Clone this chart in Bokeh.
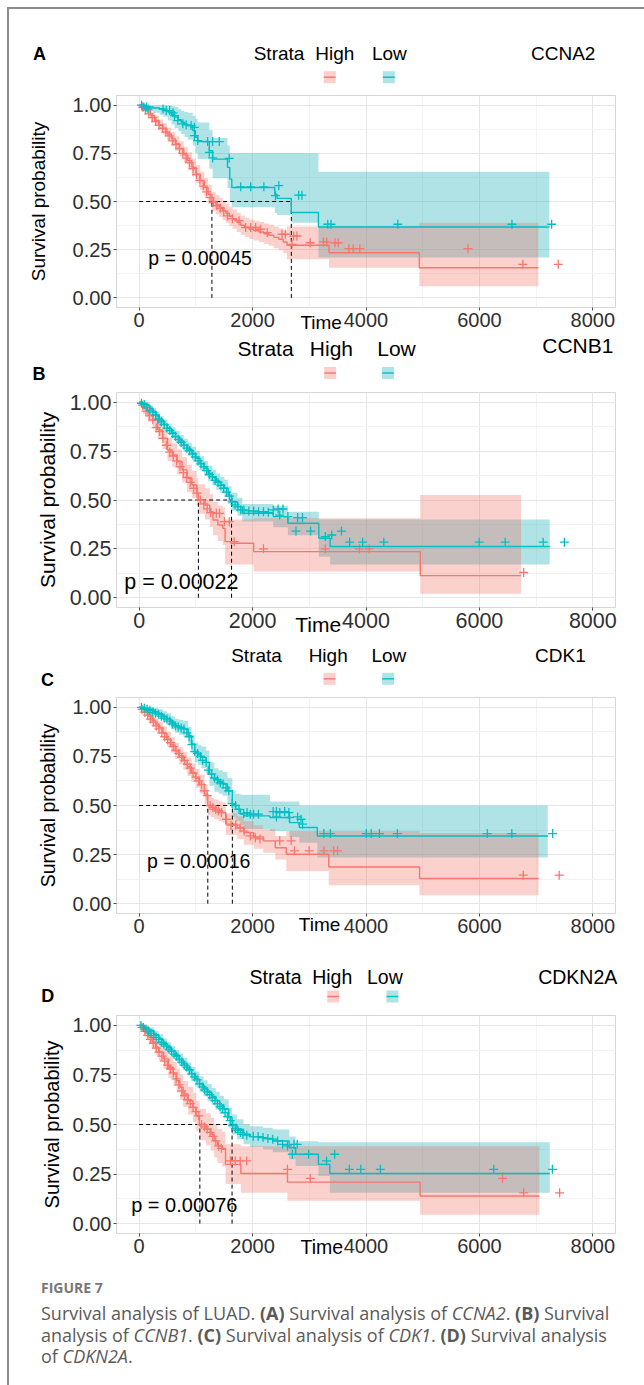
from bokeh.plotting import figure
from bokeh.models import Range1d, FixedTicker, Label, Div, PrintfTickFormatter
from bokeh.layouts import column, row
from bokeh.core.properties import value
from bokeh.embed import file_html
from bokeh.resources import INLINE

# ------------------------------------------------------------------ data
X_TICKS = [0, 2000, 4000, 6000, 8000]
X_MINOR = [1000, 3000, 5000, 7000]
Y_TICKS = [0.0, 0.25, 0.5, 0.75, 1.0]
Y_MINOR = [0.125, 0.375, 0.625, 0.875]

PANEL_LETTERS = ["A", "B", "C", "D"]
GENES = ["CCNA2", "CCNB1", "CDK1", "CDKN2A"]
P_TEXTS = ["p = 0.00045", "p = 0.00022", "p = 0.00016", "p = 0.00076"]
STRATA = ["High", "Low"]

# ---- Panel A (CCNA2)
A_high_t = [0, 60, 128, 200, 274, 350, 420, 490, 566, 640, 712, 785, 857, 930, 1003, 1075, 1149, 1215, 1283, 1350,
            1412, 1470, 1528, 1590, 1645, 1720, 1791, 1860, 1937, 2020, 2112, 2200, 2287, 2375, 2462, 2540, 2607, 3348, 4941, 7040]
A_high_s = [1.0, 0.99, 0.972, 0.945, 0.92, 0.898, 0.877, 0.85, 0.825, 0.80, 0.773, 0.742, 0.712, 0.677, 0.642, 0.607, 0.573, 0.537, 0.50, 0.484,
            0.469, 0.454, 0.439, 0.423, 0.408, 0.392, 0.377, 0.366, 0.356, 0.349, 0.342, 0.333, 0.325, 0.314, 0.304, 0.29, 0.273, 0.234, 0.156, 0.156]
A_high_lo = [1.0, 0.98, 0.957, 0.925, 0.895, 0.87, 0.847, 0.817, 0.789, 0.762, 0.733, 0.70, 0.668, 0.631, 0.595, 0.559, 0.524, 0.487, 0.45, 0.434,
             0.419, 0.404, 0.389, 0.373, 0.358, 0.342, 0.327, 0.316, 0.306, 0.297, 0.29, 0.28, 0.27, 0.258, 0.247, 0.232, 0.20, 0.156, 0.06, 0.06]
A_high_hi = [1.0, 1.0, 0.987, 0.965, 0.945, 0.926, 0.907, 0.883, 0.861, 0.838, 0.813, 0.784, 0.756, 0.723, 0.689, 0.655, 0.622, 0.587, 0.55, 0.534,
             0.519, 0.504, 0.489, 0.473, 0.458, 0.442, 0.427, 0.416, 0.406, 0.40, 0.394, 0.386, 0.38, 0.37, 0.36, 0.35, 0.37, 0.37, 0.39, 0.39]
A_high_ct = [60, 110, 170, 230, 290, 350, 410, 470, 530, 590, 650, 710, 770, 830, 890, 950, 1010, 1070, 1130, 1190,
             1250, 1310, 1370, 1430, 1490, 1557, 1645, 1762, 1878, 1966, 2053, 2141, 2258, 2520, 2578, 2695, 2724, 2782, 3016, 3249,
             3307, 3453, 3511, 3698, 3774, 3891, 5798, 6766, 7390]
A_high_cs = [0.99, 0.975, 0.955, 0.935, 0.915, 0.895, 0.88, 0.86, 0.84, 0.815, 0.795, 0.775, 0.75, 0.725, 0.70, 0.67, 0.64, 0.61, 0.58, 0.55,
             0.52, 0.495, 0.478, 0.465, 0.45, 0.425, 0.411, 0.40, 0.365, 0.365, 0.365, 0.356, 0.339, 0.33, 0.33, 0.278, 0.321, 0.321, 0.286, 0.29,
             0.29, 0.286, 0.286, 0.255, 0.255, 0.255, 0.255, 0.174, 0.174]
A_low_t = [0, 100, 157, 250, 362, 430, 507, 570, 624, 690, 741, 800, 857, 945, 992, 1032, 1237, 1295, 1557, 1598,
           1633, 2392, 2432, 2683, 3161, 7233]
A_low_s = [1.0, 0.995, 0.99, 0.985, 0.98, 0.972, 0.964, 0.95, 0.938, 0.925, 0.911, 0.90, 0.894, 0.868, 0.833, 0.811, 0.764, 0.72, 0.677, 0.616,
           0.573, 0.538, 0.516, 0.443, 0.368, 0.368]
A_low_lo = [1.0, 0.98, 0.97, 0.96, 0.95, 0.94, 0.92, 0.90, 0.88, 0.865, 0.85, 0.835, 0.82, 0.79, 0.75, 0.72, 0.67, 0.62, 0.57, 0.50,
            0.47, 0.44, 0.43, 0.39, 0.21, 0.21]
A_low_hi = [1.0, 1.0, 1.0, 1.0, 1.0, 1.0, 1.0, 0.995, 0.99, 0.98, 0.97, 0.965, 0.96, 0.945, 0.93, 0.91, 0.87, 0.83, 0.79, 0.75,
            0.75, 0.75, 0.75, 0.75, 0.655, 0.655]
A_low_ct = [41, 82, 128, 157, 420, 478, 537, 595, 624, 682, 770, 828, 916, 974, 974, 1032, 1207, 1295, 1412, 1237,
            1295, 1587, 1791, 1966, 2199, 2462, 2403, 2812, 2870, 3325, 3383, 4561, 6574, 7274]
A_low_cs = [1.0, 0.99, 0.99, 0.98, 0.98, 0.972, 0.972, 0.96, 0.946, 0.92, 0.903, 0.898, 0.894, 0.885, 0.842, 0.816, 0.811, 0.811, 0.811, 0.755,
            0.726, 0.724, 0.576, 0.576, 0.576, 0.582, 0.53, 0.533, 0.533, 0.382, 0.382, 0.382, 0.382, 0.382]
A_medians = [1283, 2683]

# ---- Panel B (CCNB1)
B_high_t = [0, 69, 155, 241, 327, 413, 499, 585, 671, 757, 843, 929, 1015, 1044, 1159, 1245, 1302, 1388, 1474, 1515,
            1618, 2019, 4957, 6735]
B_high_s = [1.0, 0.968, 0.934, 0.909, 0.858, 0.815, 0.756, 0.73, 0.696, 0.654, 0.611, 0.577, 0.534, 0.50, 0.474, 0.44, 0.398, 0.372, 0.355, 0.287,
            0.279, 0.236, 0.113, 0.113]
B_high_lo = [1.0, 0.94, 0.90, 0.87, 0.81, 0.76, 0.70, 0.67, 0.63, 0.59, 0.54, 0.51, 0.47, 0.43, 0.40, 0.36, 0.32, 0.29, 0.27, 0.17,
             0.17, 0.134, 0.02, 0.02]
B_high_hi = [1.0, 0.99, 0.97, 0.95, 0.91, 0.87, 0.82, 0.79, 0.76, 0.72, 0.68, 0.65, 0.61, 0.58, 0.56, 0.53, 0.49, 0.47, 0.46, 0.40,
             0.40, 0.406, 0.525, 0.525]
B_high_ct = [60, 120, 180, 240, 300, 360, 420, 480, 540, 600, 660, 720, 780, 840, 900, 960, 1020, 1080, 1140, 1200,
             1260, 1360, 1417, 1503, 1589, 1675, 2192, 3282, 3884, 4056, 6781]
B_high_cs = [0.985, 0.955, 0.93, 0.91, 0.87, 0.85, 0.815, 0.78, 0.745, 0.725, 0.70, 0.67, 0.64, 0.615, 0.59, 0.56, 0.535, 0.50, 0.48, 0.455,
             0.435, 0.432, 0.432, 0.389, 0.389, 0.287, 0.25, 0.25, 0.25, 0.25, 0.129]
B_low_t = [0, 60, 126, 185, 241, 300, 356, 430, 499, 570, 643, 715, 786, 858, 929, 1000, 1073, 1145, 1216, 1290,
           1360, 1430, 1503, 1570, 1629, 1733, 1819, 2364, 2622, 3167, 3368, 7240]
B_low_s = [1.0, 0.993, 0.985, 0.968, 0.95, 0.93, 0.909, 0.888, 0.866, 0.845, 0.824, 0.802, 0.781, 0.76, 0.739, 0.713, 0.687, 0.662, 0.636, 0.615,
           0.594, 0.577, 0.56, 0.525, 0.491, 0.466, 0.432, 0.415, 0.381, 0.304, 0.262, 0.262]
B_low_lo = [1.0, 0.98, 0.97, 0.95, 0.93, 0.91, 0.885, 0.862, 0.838, 0.815, 0.793, 0.77, 0.748, 0.726, 0.704, 0.677, 0.65, 0.624, 0.597, 0.575,
            0.553, 0.535, 0.517, 0.48, 0.445, 0.42, 0.39, 0.36, 0.32, 0.21, 0.17, 0.17]
B_low_hi = [1.0, 1.0, 1.0, 0.985, 0.97, 0.95, 0.93, 0.912, 0.892, 0.872, 0.853, 0.833, 0.813, 0.793, 0.773, 0.749, 0.724, 0.70, 0.675, 0.655,
            0.635, 0.619, 0.603, 0.57, 0.537, 0.512, 0.48, 0.47, 0.44, 0.40, 0.40, 0.40]
B_low_ct = [40, 90, 140, 190, 240, 290, 340, 390, 440, 490, 540, 590, 640, 690, 740, 790, 840, 890, 940, 990,
            1040, 1090, 1140, 1190, 1240, 1290, 1340, 1390, 1440, 1490, 1540, 1590, 1640, 1690, 1740, 1790,
            1847, 1933, 2019, 2106, 2192, 2278, 2364, 2450, 2536,
            2478, 2622, 2794, 2880,
            2765, 3023, 3282, 3396, 3568,
            3712, 3941, 4314, 5995, 6454, 7125, 7498]
B_low_cs = [0.995, 0.988, 0.975, 0.96, 0.95, 0.935, 0.915, 0.90, 0.885, 0.868, 0.855, 0.84, 0.825, 0.81, 0.795, 0.78, 0.765, 0.752, 0.735, 0.72,
            0.70, 0.685, 0.67, 0.65, 0.63, 0.62, 0.60, 0.59, 0.575, 0.56, 0.54, 0.52, 0.49, 0.475, 0.465, 0.45,
            0.449, 0.444, 0.444, 0.44, 0.44, 0.437, 0.449, 0.454, 0.454,
            0.423, 0.415, 0.41, 0.41,
            0.341, 0.341, 0.313, 0.321, 0.341,
            0.284, 0.284, 0.284, 0.284, 0.284, 0.284, 0.284]
B_medians = [1044, 1629]

# ---- Panel C (CDK1)
C_high_t = [0, 60, 115, 170, 231, 290, 346, 420, 490, 560, 634, 705, 778, 850, 922, 995, 1066, 1153, 1210, 1268,
            1326, 1400, 1470, 1527, 1729, 1844, 2020, 2190, 2400, 2594, 3343, 4945, 7044]
C_high_s = [1.0, 0.988, 0.974, 0.953, 0.932, 0.915, 0.898, 0.868, 0.838, 0.808, 0.779, 0.754, 0.728, 0.698, 0.668, 0.638, 0.609, 0.558, 0.50, 0.49,
            0.48, 0.472, 0.464, 0.405, 0.388, 0.362, 0.34, 0.32, 0.285, 0.252, 0.187, 0.128, 0.128]
C_high_lo = [1.0, 0.975, 0.955, 0.93, 0.905, 0.885, 0.865, 0.832, 0.80, 0.768, 0.737, 0.71, 0.682, 0.65, 0.62, 0.59, 0.56, 0.508, 0.45, 0.44,
             0.43, 0.42, 0.412, 0.35, 0.33, 0.30, 0.28, 0.26, 0.225, 0.167, 0.094, 0.043, 0.043]
C_high_hi = [1.0, 1.0, 0.99, 0.975, 0.957, 0.943, 0.928, 0.902, 0.875, 0.847, 0.82, 0.797, 0.773, 0.745, 0.715, 0.686, 0.657, 0.607, 0.55, 0.54,
             0.53, 0.522, 0.514, 0.46, 0.445, 0.42, 0.40, 0.38, 0.345, 0.37, 0.37, 0.36, 0.36]
C_high_ct = [50, 100, 150, 200, 250, 300, 350, 400, 450, 500, 550, 600, 650, 700, 750, 800, 850, 900, 950, 1000,
             1050, 1100, 1150, 1200, 1250, 1300, 1350, 1400, 1450,
             1540, 1620, 1700, 1780, 1850, 1960, 2050, 2130,
             2479, 2680, 2738, 2997, 3257, 3430, 3499, 6773, 7407]
C_high_cs = [0.99, 0.975, 0.96, 0.94, 0.925, 0.905, 0.89, 0.87, 0.85, 0.835, 0.82, 0.80, 0.78, 0.765, 0.745, 0.73, 0.71, 0.69, 0.665, 0.645,
             0.625, 0.605, 0.575, 0.55, 0.50, 0.49, 0.48, 0.472, 0.464,
             0.43, 0.40, 0.40, 0.385, 0.37, 0.345, 0.335, 0.33,
             0.32, 0.32, 0.269, 0.269, 0.269, 0.269, 0.269, 0.145, 0.145]
C_low_t = [0, 90, 173, 260, 346, 420, 490, 560, 634, 705, 778, 865, 922, 980, 1040, 1095, 1182, 1239, 1326, 1400,
           1470, 1556, 1643, 1700, 1787, 1844, 2306, 2651, 2824, 3141, 7205]
C_low_s = [1.0, 0.995, 0.99, 0.978, 0.966, 0.953, 0.94, 0.923, 0.906, 0.897, 0.889, 0.855, 0.813, 0.77, 0.758, 0.745, 0.719, 0.66, 0.634, 0.621,
           0.609, 0.575, 0.503, 0.481, 0.456, 0.447, 0.439, 0.413, 0.388, 0.345, 0.345]
C_low_lo = [1.0, 0.98, 0.97, 0.955, 0.94, 0.925, 0.91, 0.89, 0.87, 0.86, 0.85, 0.81, 0.77, 0.72, 0.705, 0.69, 0.66, 0.60, 0.57, 0.56,
            0.55, 0.51, 0.44, 0.42, 0.40, 0.38, 0.37, 0.34, 0.31, 0.235, 0.235]
C_low_hi = [1.0, 1.0, 1.0, 0.995, 0.99, 0.98, 0.97, 0.955, 0.94, 0.935, 0.93, 0.90, 0.86, 0.82, 0.81, 0.80, 0.78, 0.72, 0.69, 0.68,
            0.67, 0.64, 0.575, 0.56, 0.555, 0.555, 0.52, 0.52, 0.50, 0.50, 0.50]
C_low_ct = [40, 90, 140, 190, 240, 290, 340, 390, 440, 490, 540, 590, 640, 690, 740, 790, 840, 880, 930, 980,
            1030, 1080, 1120, 1180, 1220, 1280, 1330, 1380, 1430, 1480, 1530, 1580, 1640, 1700, 1760,
            1844, 1902, 1960, 2017, 2104, 2363, 2421, 2479, 2565, 2640,
            2421, 2651, 2795, 2853, 2882,
            3257, 3372, 4006, 4092, 4237, 4554, 6139, 6571, 7292]
C_low_cs = [1.0, 0.995, 0.99, 0.985, 0.975, 0.97, 0.965, 0.955, 0.945, 0.94, 0.93, 0.915, 0.905, 0.9, 0.895, 0.89, 0.87, 0.85, 0.81, 0.775,
            0.765, 0.75, 0.73, 0.72, 0.68, 0.66, 0.64, 0.63, 0.615, 0.61, 0.59, 0.575, 0.51, 0.5, 0.48,
            0.459, 0.464, 0.456, 0.456, 0.456, 0.469, 0.469, 0.464, 0.469, 0.464,
            0.442, 0.439, 0.442, 0.43, 0.405,
            0.357, 0.357, 0.357, 0.357, 0.357, 0.357, 0.357, 0.357, 0.357]
C_medians = [1210, 1643]

# ---- Panel D (CDKN2A)
D_high_t = [0, 60, 115, 170, 230, 290, 345, 431, 517, 603, 661, 718, 776, 862, 948, 1006, 1063, 1178, 1264, 1322,
            1379, 1465, 1523, 1793, 2615, 4954, 7057]
D_high_s = [1.0, 0.985, 0.966, 0.94, 0.916, 0.89, 0.865, 0.831, 0.789, 0.755, 0.721, 0.688, 0.654, 0.62, 0.586, 0.544, 0.50, 0.476, 0.451, 0.417,
            0.392, 0.375, 0.299, 0.253, 0.209, 0.139, 0.139]
D_high_lo = [1.0, 0.965, 0.94, 0.91, 0.88, 0.85, 0.82, 0.78, 0.735, 0.695, 0.66, 0.625, 0.588, 0.55, 0.513, 0.468, 0.42, 0.395, 0.368, 0.333,
             0.306, 0.287, 0.20, 0.155, 0.115, 0.045, 0.045]
D_high_hi = [1.0, 1.0, 0.99, 0.97, 0.952, 0.93, 0.91, 0.88, 0.843, 0.815, 0.782, 0.751, 0.72, 0.69, 0.66, 0.62, 0.58, 0.557, 0.534, 0.50,
             0.478, 0.463, 0.40, 0.39, 0.39, 0.39, 0.39]
D_high_ct = [50, 100, 150, 200, 250, 300, 350, 400, 450, 500, 550, 600, 650, 700, 750, 800, 850, 900, 950, 1000,
             1050, 1100, 1150, 1200, 1250, 1300, 1350, 1400, 1450,
             1609, 1695, 1782, 1897, 2615, 3017, 6408, 6781, 7414]
D_high_cs = [0.99, 0.97, 0.95, 0.93, 0.91, 0.885, 0.865, 0.845, 0.82, 0.80, 0.78, 0.76, 0.73, 0.70, 0.67, 0.645, 0.625, 0.605, 0.586, 0.565,
             0.544, 0.50, 0.488, 0.476, 0.46, 0.44, 0.417, 0.392, 0.38,
             0.316, 0.316, 0.316, 0.316, 0.274, 0.228, 0.228, 0.155, 0.155]
D_low_t = [0, 90, 172, 260, 345, 420, 489, 560, 632, 705, 776, 850, 920, 990, 1063, 1135, 1207, 1280, 1351, 1420,
           1494, 1580, 1638, 1724, 1839, 1954, 2184, 2356, 2644, 2759, 3161, 3362, 7241]
D_low_s = [1.0, 0.988, 0.975, 0.953, 0.932, 0.91, 0.89, 0.869, 0.848, 0.827, 0.806, 0.78, 0.755, 0.73, 0.704, 0.683, 0.662, 0.641, 0.62, 0.599,
           0.578, 0.535, 0.50, 0.476, 0.451, 0.439, 0.429, 0.417, 0.383, 0.35, 0.299, 0.253, 0.253]
D_low_lo = [1.0, 0.975, 0.96, 0.935, 0.91, 0.886, 0.865, 0.842, 0.82, 0.797, 0.775, 0.747, 0.72, 0.693, 0.665, 0.643, 0.62, 0.598, 0.575, 0.553,
            0.53, 0.485, 0.45, 0.425, 0.40, 0.387, 0.375, 0.36, 0.325, 0.29, 0.24, 0.155, 0.155]
D_low_hi = [1.0, 1.0, 0.99, 0.972, 0.955, 0.934, 0.915, 0.896, 0.876, 0.857, 0.837, 0.813, 0.79, 0.767, 0.743, 0.723, 0.704, 0.684, 0.665, 0.645,
            0.626, 0.585, 0.55, 0.527, 0.503, 0.491, 0.483, 0.475, 0.44, 0.415, 0.41, 0.41, 0.41]
D_low_ct = [30, 75, 120, 165, 210, 255, 300, 345, 390, 435, 480, 525, 570, 615, 660, 705, 750, 795, 840, 885,
            930, 975, 1020, 1065, 1110, 1155, 1200, 1245, 1290, 1335, 1380, 1425, 1470, 1515, 1560, 1605, 1650, 1695, 1740, 1785, 1830,
            1897, 2011, 2098, 2184, 2270, 2356, 2443, 2529, 2615, 2730, 2787,
            2701, 2988, 3304, 3448,
            3707, 3908, 4253, 6253, 7287]
D_low_cs = [1.0, 0.99, 0.98, 0.97, 0.96, 0.95, 0.94, 0.93, 0.915, 0.905, 0.895, 0.88, 0.87, 0.855, 0.845, 0.83, 0.815, 0.80, 0.79, 0.775,
            0.755, 0.74, 0.725, 0.705, 0.69, 0.675, 0.665, 0.65, 0.635, 0.62, 0.605, 0.59, 0.58, 0.56, 0.54, 0.52, 0.495, 0.48, 0.47, 0.46, 0.45,
            0.446, 0.439, 0.439, 0.434, 0.429, 0.426, 0.417, 0.40, 0.392, 0.40, 0.40,
            0.35, 0.35, 0.316, 0.35,
            0.274, 0.274, 0.274, 0.274, 0.274]
D_medians = [1070, 1638]

CAPTION_TITLE = "FIGURE 7"
CAPTION_LINES = [
    'Survival analysis of LUAD. <b>(A)</b> Survival analysis of <i>CCNA2</i>. <b>(B)</b> Survival',
    'analysis of <i>CCNB1</i>. <b>(C)</b> Survival analysis of <i>CDK1</i>. <b>(D)</b> Survival analysis',
    'of <i>CDKN2A</i>.',
]

# ------------------------------------------------------------------ style / layout
RED = "#F8766D"
TEAL = "#00BFC4"
RED_BAND = "#F36B5C"
TEAL_BAND = "#0AA8B0"
FONT = "Liberation Sans"
FIG_W = 635
PAGE_X0 = 9
XR = (-400, 8400)
YR = (-0.05, 1.05)

DATA = {
    "A": dict(high=(A_high_t, A_high_s, A_high_lo, A_high_hi, A_high_ct, A_high_cs),
              low=(A_low_t, A_low_s, A_low_lo, A_low_hi, A_low_ct, A_low_cs), med=A_medians),
    "B": dict(high=(B_high_t, B_high_s, B_high_lo, B_high_hi, B_high_ct, B_high_cs),
              low=(B_low_t, B_low_s, B_low_lo, B_low_hi, B_low_ct, B_low_cs), med=B_medians),
    "C": dict(high=(C_high_t, C_high_s, C_high_lo, C_high_hi, C_high_ct, C_high_cs),
              low=(C_low_t, C_low_s, C_low_lo, C_low_hi, C_low_ct, C_low_cs), med=C_medians),
    "D": dict(high=(D_high_t, D_high_s, D_high_lo, D_high_hi, D_high_ct, D_high_cs),
              low=(D_low_t, D_low_s, D_low_lo, D_low_hi, D_low_ct, D_low_cs), med=D_medians),
}

# page-pixel geometry of each panel
GEOM = {
    "A": dict(top=9, h=325, mb=(104, 29, 86, 27), ylab_so=21, f_tick=20, f_txt=19, f_ylab=19,
              letter=(29, 53), strata=251, high=313, low=370, leg_y=52.5, gene=(530, 52.5),
              key_r=(327.5, 76.7), key_t=(387, 76.7), time=(298, 322), p=(145, 257)),
    "B": dict(top=334, h=306, mb=(107, 17, 58, 33), ylab_so=8, f_tick=21.5, f_txt=21, f_ylab=21,
              letter=(30, 373), strata=240, high=314, low=383, leg_y=348, gene=(552, 345),
              key_r=(334.8, 372.5), key_t=(394, 372.5), time=(299, 624), p=(124, 581)),
    "C": dict(top=640, h=318, mb=(98, 28, 57, 45), ylab_so=11, f_tick=20, f_txt=19, f_ylab=19.5,
              letter=(30, 679), strata=224, high=303, low=367, leg_y=655, gene=(534, 655),
              key_r=(324.3, 678.3), key_t=(384, 678.3), time=(293, 924), p=(138, 860)),
    "D": dict(top=958, h=306, mb=(98, 27, 57, 31), ylab_so=7, f_tick=20, f_txt=19.5, f_ylab=20,
              letter=(30, 995), strata=243, high=307, low=363, leg_y=976, gene=(538, 976),
              key_r=(328.5, 996), key_t=(389, 996), time=(295, 1246), p=(122, 1204)),
}


def build_panel(idx):
    letter = PANEL_LETTERS[idx]
    g = GEOM[letter]
    d = DATA[letter]
    ml, mr, mt, mbm = g["mb"]
    p = figure(width=FIG_W, height=g["h"], x_range=Range1d(*XR), y_range=Range1d(*YR),
               output_backend="svg", toolbar_location=None,
               min_border_left=ml, min_border_right=mr, min_border_top=mt, min_border_bottom=mbm)
    p.background_fill_color = "white"
    p.border_fill_color = "white"
    p.outline_line_color = "#d6d6d6"
    p.outline_line_width = 1

    # frame geometry in page px -> data coords for texts placed outside the frame
    fl = PAGE_X0 + ml
    fr = PAGE_X0 + FIG_W - mr
    ft = g["top"] + mt
    fb = g["top"] + g["h"] - mbm

    def dx(px):
        return XR[0] + (px - fl) / (fr - fl) * (XR[1] - XR[0])

    def dy(py):
        return YR[1] - (py - ft) / (fb - ft) * (YR[1] - YR[0])

    def put_text(px, py, txt, size, bold=False):
        p.text(x=[dx(px)], y=[dy(py)], text=[txt], text_font=value(FONT),
               text_font_size=value(f"{size}px"), text_font_style="bold" if bold else "normal",
               text_color="black", text_align="left", text_baseline="middle", level="overlay")

    # axes
    p.xaxis.ticker = FixedTicker(ticks=X_TICKS, minor_ticks=X_MINOR)
    p.yaxis.ticker = FixedTicker(ticks=Y_TICKS, minor_ticks=Y_MINOR)
    p.xaxis.formatter = PrintfTickFormatter(format="%d")
    p.yaxis.formatter = PrintfTickFormatter(format="%.2f")
    for ax in (p.xaxis, p.yaxis):
        ax.axis_line_color = None
        ax.major_tick_line_color = "#4d4d4d"
        ax.major_tick_in = 0
        ax.major_tick_out = 3
        ax.minor_tick_line_color = None
        ax.major_label_text_font = FONT
        ax.major_label_text_font_size = f"{g['f_tick']}px"
        ax.major_label_text_color = "#303030"
        ax.major_label_standoff = 1
    p.yaxis.axis_label = "Survival probability"
    p.yaxis.axis_label_text_font = FONT
    p.yaxis.axis_label_text_font_style = "normal"
    p.yaxis.axis_label_text_font_size = f"{g['f_ylab']}px"
    p.yaxis.axis_label_text_color = "black"
    p.yaxis.axis_label_standoff = g["ylab_so"]

    for gr in (p.xgrid, p.ygrid):
        gr.grid_line_color = "#e6e6e6"
        gr.grid_line_width = 1
        gr.minor_grid_line_color = "#f3f3f3"
        gr.minor_grid_line_width = 1

    # confidence bands (Low first, High over it -> grey overlap)
    for key, col, alpha in (("low", TEAL_BAND, 0.32), ("high", RED_BAND, 0.31)):
        t, s, lo, hi, ct, cs = d[key]
        p.varea_step(x=t, y1=lo, y2=hi, step_mode="after", fill_color=col, fill_alpha=alpha)

    # median lines
    med = d["med"]
    p.segment(x0=[0] + med, y0=[0.5] + [0] * len(med), x1=[max(med)] + med, y1=[0.5] * (len(med) + 1),
              line_color="black", line_width=1, line_dash="4 3")

    # survival curves and censor marks
    for key, col in (("high", RED), ("low", TEAL)):
        t, s, lo, hi, ct, cs = d[key]
        p.step(x=t, y=s, mode="after", line_color=col, line_width=1.4)
        p.scatter(x=ct, y=cs, marker="cross", size=9, line_color=col, line_width=1.3)

    # p-value (inside the panel)
    px, py = g["p"]
    p.add_layout(Label(x=dx(px), y=dy(py), text=P_TEXTS[idx], text_font=FONT,
                       text_font_size=f"{g['f_txt'] + 0.5}px", text_color="black",
                       text_align="left", text_baseline="middle"))
    # texts around the panel
    put_text(*g["time"], "Time", g["f_txt"])
    put_text(*g["letter"], letter, 18, bold=True)
    put_text(g["strata"], g["leg_y"], "Strata", g["f_txt"])
    put_text(g["high"], g["leg_y"], STRATA[0], g["f_txt"])
    put_text(g["low"], g["leg_y"], STRATA[1], g["f_txt"])
    put_text(*g["gene"], GENES[idx], g["f_txt"])

    # legend keys
    for (kx, ky), col, bcol in ((g["key_r"], RED, RED_BAND), (g["key_t"], TEAL, TEAL_BAND)):
        p.rect(x=[dx(kx)], y=[dy(ky)], width=12, height=12, width_units="screen", height_units="screen",
               fill_color=bcol, fill_alpha=0.32, line_color=None, level="overlay")
        p.segment(x0=[dx(kx - 6)], y0=[dy(ky)], x1=[dx(kx + 6)], y1=[dy(ky)], line_color=col,
                  line_width=1.4, level="overlay")
        p.scatter(x=[dx(kx + 1)], y=[dy(ky - 2.5)], marker="cross", size=9, line_color=col,
                  line_width=1.3, level="overlay")
    return p


panels = [build_panel(i) for i in range(4)]

caption_html = (
    '<div style="padding:16px 0 0 32px; font-family:\'Open Sans\', sans-serif; color:#5a5a5a;">'
    f'<div style="font-size:14px; font-weight:700; color:#777777; line-height:16px;">{CAPTION_TITLE}</div>'
    '<div style="font-size:18px; line-height:21.5px; margin-top:7px; white-space:nowrap;">'
    + "<br>".join(CAPTION_LINES) +
    '</div></div>'
)
caption = Div(text=caption_html, width=FIG_W, height=121, margin=(0, 0, 0, 0))

top_bar = Div(text="", width=637, height=2, margin=(7, 0, 0, 7), styles={"background-color": "#8c8c8c"})
left_bar = Div(text="", width=2, height=1376, margin=(0, 0, 0, 7), styles={"background-color": "#8c8c8c"})
content = column(*panels, caption, spacing=0)
layout = column(top_bar, row(left_bar, content, spacing=0), spacing=0)

html = file_html(layout, INLINE, title="Figure 7")
open("out.html", "w").write(html)
